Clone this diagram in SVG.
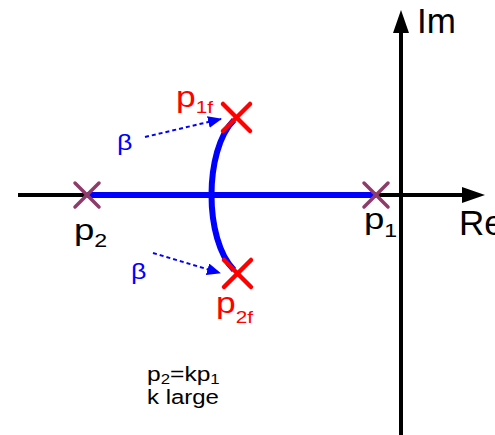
<svg xmlns="http://www.w3.org/2000/svg" width="495" height="435" viewBox="0 0 495 435">
<style>
text{font-family:"Liberation Sans",Arial,sans-serif}
.axis{stroke:#000;stroke-width:4;fill:none}
.loc{stroke:#0000ff;stroke-width:6;fill:none}
.pole{stroke:#8e3b6b;stroke-width:3.5;stroke-linecap:round}
.fpole{stroke:#ff0000;stroke-width:4.5;stroke-linecap:round}
.dash{stroke:#0000ff;stroke-width:2;stroke-dasharray:4 3;fill:none}
.blk{fill:#000}
.red{fill:#ff0000}
.blu{fill:#0000ff}
</style>
<defs>
<marker id="bh" markerWidth="14" markerHeight="12" refX="13" refY="6" orient="auto" markerUnits="userSpaceOnUse" viewBox="0 0 14 12">
<path d="M0,0 L14,6 L0,12 z" fill="#0000ff"/>
</marker>
</defs>
<g id="axes">
<line class="axis" x1="18" y1="195" x2="466" y2="195"/>
<path d="M462,187 L485,195 L462,203 z" fill="#000"/>
<line class="axis" x1="401" y1="435" x2="401" y2="30"/>
<path d="M393,33 L401,10 L409,33 z" fill="#000"/>
<text x="417" y="33" font-size="35" class="blk">Im</text>
<text x="459" y="235" font-size="35" class="blk">Re</text>
</g>
<g id="connectors">
<line class="loc" x1="87" y1="195" x2="376" y2="195"/>
<path class="loc" d="M234,120 C204,150 204,240 234,270"/>
<line class="dash" x1="145" y1="137" x2="221" y2="119" marker-end="url(#bh)"/>
<line class="dash" x1="153" y1="253" x2="220" y2="273" marker-end="url(#bh)"/>
</g>
<g id="p2">
<line class="pole" x1="75" y1="183" x2="99" y2="207"/>
<line class="pole" x1="99" y1="183" x2="75" y2="207"/>
<text transform="translate(74 240) scale(1.22 1)" font-size="30" class="blk">p<tspan font-size="19" dy="7">2</tspan></text>
</g>
<g id="p1">
<line class="pole" x1="364" y1="183" x2="388" y2="207"/>
<line class="pole" x1="388" y1="183" x2="364" y2="207"/>
<text transform="translate(364 228.5) scale(1.22 1)" font-size="30" class="blk">p<tspan font-size="19" dy="8">1</tspan></text>
</g>
<g id="p1f">
<line class="fpole" x1="223" y1="104" x2="250" y2="131"/>
<line class="fpole" x1="250" y1="104" x2="223" y2="131"/>
<text transform="translate(176 107) scale(1.22 1)" font-size="29" class="red">p<tspan font-size="17" dy="6">1f</tspan></text>
</g>
<g id="p2f">
<line class="fpole" x1="224" y1="260" x2="251" y2="287"/>
<line class="fpole" x1="251" y1="260" x2="224" y2="287"/>
<text transform="translate(216 313) scale(1.22 1)" font-size="29" class="red">p<tspan font-size="17" dy="10">2f</tspan></text>
</g>
<g id="beta1"><text transform="translate(117 150) scale(1.22 1)" font-size="22" class="blu">β</text></g>
<g id="beta2"><text transform="translate(131 279) scale(1.22 1)" font-size="22" class="blu">β</text></g>
<g id="note">
<text transform="translate(147 381) scale(1.2 1)" font-size="20.5" class="blk">p<tspan font-size="14" dy="3">2</tspan><tspan dy="-3">=kp</tspan><tspan font-size="14" dy="3">1</tspan></text>
<text transform="translate(147 404) scale(1.17 1)" font-size="20.5" class="blk">k large</text>
</g>
</svg>
